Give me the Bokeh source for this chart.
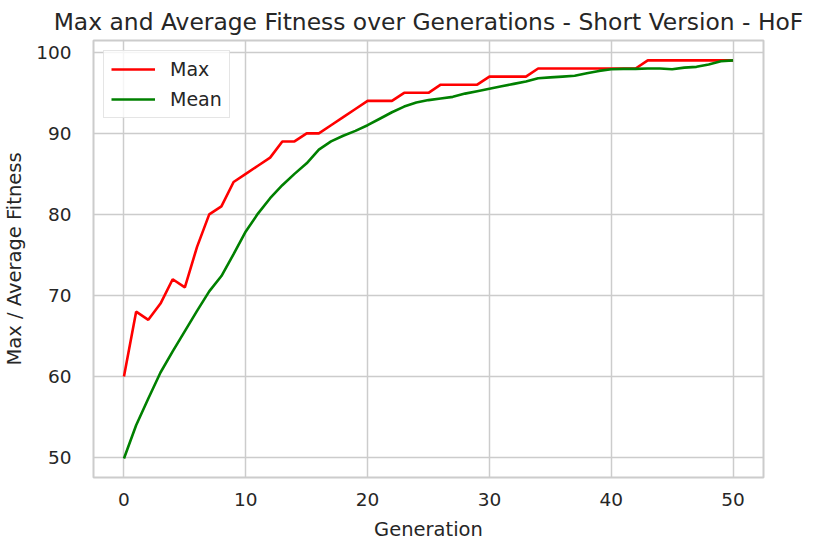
from bokeh.plotting import figure
from bokeh.models import Range1d, FixedTicker, Legend, LegendItem, ColumnDataSource
from bokeh.embed import file_html
from bokeh.resources import INLINE

generations = list(range(0, 51))
max_fitness = [60, 68, 67, 69, 72, 71, 76, 80, 81, 84,
               85, 86, 87, 89, 89, 90, 90, 91, 92, 93,
               94, 94, 94, 95, 95, 95, 96, 96, 96, 96,
               97, 97, 97, 97, 98, 98, 98, 98, 98, 98,
               98, 98, 98, 99, 99, 99, 99, 99, 99, 99, 99]
mean_fitness = [49.9, 54.0, 57.3, 60.5, 63.1, 65.6, 68.1, 70.5, 72.4, 75.1,
                77.9, 80.1, 82.0, 83.6, 85.0, 86.3, 88.0, 89.0, 89.7, 90.3,
                91.0, 91.8, 92.6, 93.3, 93.8, 94.1, 94.3, 94.5, 94.9, 95.2,
                95.5, 95.8, 96.1, 96.4, 96.8, 96.9, 97.0, 97.1, 97.4, 97.7,
                97.9, 97.95, 97.95, 98.0, 98.0, 97.9, 98.1, 98.2, 98.5, 98.9, 99.0]
x_ticks = [0, 10, 20, 30, 40, 50]
y_ticks = [50, 60, 70, 80, 90, 100]

TEXT = "#262626"
GRID = "#cccccc"
FONT = "DejaVu Sans"

src = ColumnDataSource(dict(g=generations, mx=max_fitness, mn=mean_fitness))

p = figure(frame_width=670, frame_height=437, output_backend="svg",
           toolbar_location=None,
           x_range=Range1d(-2.5, 52.5), y_range=Range1d(47.55, 101.45),
           min_border_left=88, min_border_right=42, min_border_top=40,
           min_border_bottom=52)

p.title.text = "Max and Average Fitness over Generations - Short Version - HoF"
p.title.text_font = FONT
p.title.text_font_size = "23.4px"
p.title.text_font_style = "normal"
p.title.text_color = TEXT
p.title.align = "center"
p.title.standoff = 9

r_max = p.line("g", "mx", source=src, line_color="#ff0000", line_width=2.6)
r_mean = p.line("g", "mn", source=src, line_color="#008000", line_width=2.6)

for ax in (p.xaxis[0], p.yaxis[0]):
    ax.axis_line_color = None
    ax.major_tick_line_color = None
    ax.minor_tick_line_color = None
    ax.major_label_text_font = FONT
    ax.major_label_text_font_size = "18.5px"
    ax.major_label_text_color = TEXT
    ax.axis_label_text_font = FONT
    ax.axis_label_text_font_size = "19.5px"
    ax.axis_label_text_font_style = "normal"
    ax.axis_label_text_color = TEXT

p.xaxis.ticker = FixedTicker(ticks=x_ticks)
p.yaxis.ticker = FixedTicker(ticks=y_ticks)
p.xaxis.axis_label = "Generation"
p.yaxis.axis_label = "Max / Average Fitness"
p.xaxis.major_label_standoff = 9
p.yaxis.major_label_standoff = 16
p.xaxis.axis_label_standoff = 9
p.yaxis.axis_label_standoff = 7

p.xgrid.grid_line_color = GRID
p.ygrid.grid_line_color = GRID
p.xgrid.grid_line_width = 1.5
p.ygrid.grid_line_width = 1.5

p.outline_line_color = GRID
p.outline_line_width = 2
p.background_fill_color = "white"
p.border_fill_color = "white"

legend = Legend(items=[LegendItem(label="Max", renderers=[r_max]),
                       LegendItem(label="Mean", renderers=[r_mean])],
                location="top_left", margin=10, padding=7, spacing=8,
                glyph_width=44, glyph_height=22, label_height=22,
                label_standoff=15,
                label_text_font=FONT, label_text_font_size="19px",
                label_text_color=TEXT,
                border_line_color=GRID, border_line_width=1.5,
                background_fill_color="white", background_fill_alpha=0.8)
p.add_layout(legend)

open("out.html", "w").write(file_html(p, INLINE))
